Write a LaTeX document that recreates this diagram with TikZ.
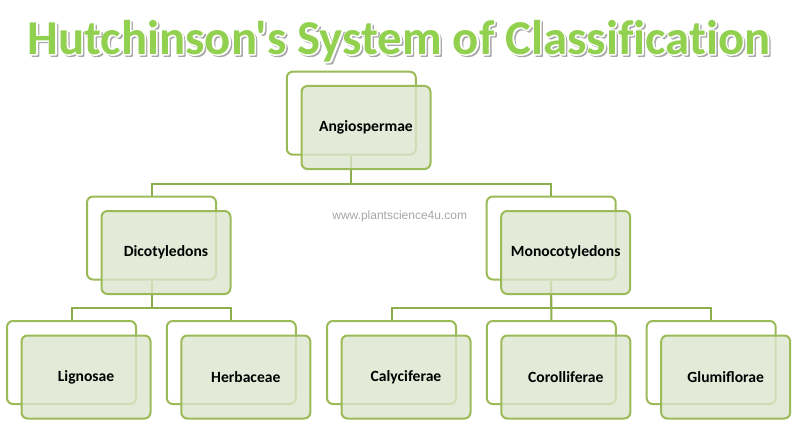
\documentclass[tikz,border=0pt]{standalone}
\usepackage{fontspec}
\setmainfont{Carlito}
\newfontfamily\titlefam[Ligatures=NoCommon]{Carlito}
\newfontfamily\wmfont{Liberation Sans}
\definecolor{bordergreen}{HTML}{9BBB59}
\definecolor{linkgreen}{HTML}{8DB04C}
\definecolor{frontfill}{HTML}{DCE5CE}
\definecolor{titlegreen}{HTML}{92D050}
\definecolor{shadowgray}{HTML}{A8A8A8}
\newcommand{\titletext}{Hutchinson's System of Classification}
\newcommand{\fancytitle}{%
  \rlap{\hspace{1.8pt}\raisebox{-1.8pt}{\color{shadowgray}\special{pdf:code 2 Tr 1.6 w 1 j}\titletext\special{pdf:code 0 Tr}}}%
  \rlap{\color{white}\special{pdf:code 1 Tr 2.6 w 1 j}\titletext\special{pdf:code 0 Tr}}%
  {\color{titlegreen}\titletext}}
\begin{document}
\begin{tikzpicture}[x=1pt,y=-1pt,
  backbox/.style={draw=bordergreen, line width=2pt, fill=white, rounded corners=6pt,
    minimum width=129pt, minimum height=83pt, inner sep=0pt},
  frontbox/.style={draw=bordergreen, line width=2pt, fill=frontfill, fill opacity=0.8,
    draw opacity=1, text opacity=1, rounded corners=6pt, minimum width=129pt,
    minimum height=83pt, inner sep=0pt, font=\bfseries\fontsize{15.6}{18}\selectfont},
  link/.style={draw=linkgreen, line width=2pt},
  titlefont/.style={font=\titlefam\bfseries\fontsize{48.7}{58}\selectfont, anchor=base, inner sep=0pt},
  watermark/.style={font=\wmfont\fontsize{12}{14}\selectfont, text=black!35, inner sep=0pt}
]
\useasboundingbox (0,0) rectangle (800,433);
% title
\node[titlefont] (title) at (399,54.3) {\fancytitle};
% watermark
\node[watermark] (wm) at (399.7,216.7) {www.plantscience4u.com};
% back boxes
\node[backbox] (angB) at (351.3,113.2) {};
\node[backbox] (dicB) at (151.5,238) {};
\node[backbox] (monB) at (551.2,238) {};
\node[backbox] (ligB) at (71.5,362.5) {};
\node[backbox] (herB) at (231.3,362.5) {};
\node[backbox] (calB) at (391.5,362.5) {};
\node[backbox] (corB) at (551.3,362.5) {};
\node[backbox] (gluB) at (711.2,362.5) {};
% connectors
\draw[link] (angB.south) |- ([yshift=12pt]dicB.north) -- (dicB.north);
\draw[link] (angB.south) |- ([yshift=12pt]monB.north) -- (monB.north);
\draw[link] (dicB.south) |- ([yshift=12pt]ligB.north) -- (ligB.north);
\draw[link] (dicB.south) |- ([yshift=12pt]herB.north) -- (herB.north);
\draw[link] (monB.south) |- ([yshift=12pt]calB.north) -- (calB.north);
\draw[link] (monB.south) -- (corB.north);
\draw[link] (monB.south) |- ([yshift=12pt]gluB.north) -- (gluB.north);
% front boxes
\node[frontbox] (ang) at (366,127.5) {Angiospermae};
\node[frontbox] (dic) at (166,252.5) {Dicotyledons};
\node[frontbox] (mon) at (565.7,252.5) {Monocotyledons};
\node[frontbox] (lig) at (86,377) {Lignosae};
\node[frontbox] (her) at (245.8,377) {Herbaceae};
\node[frontbox] (cal) at (406,377) {Calyciferae};
\node[frontbox] (cor) at (565.8,377) {Corolliferae};
\node[frontbox] (glu) at (725.7,377) {Glumiflorae};
\end{tikzpicture}
\end{document}
